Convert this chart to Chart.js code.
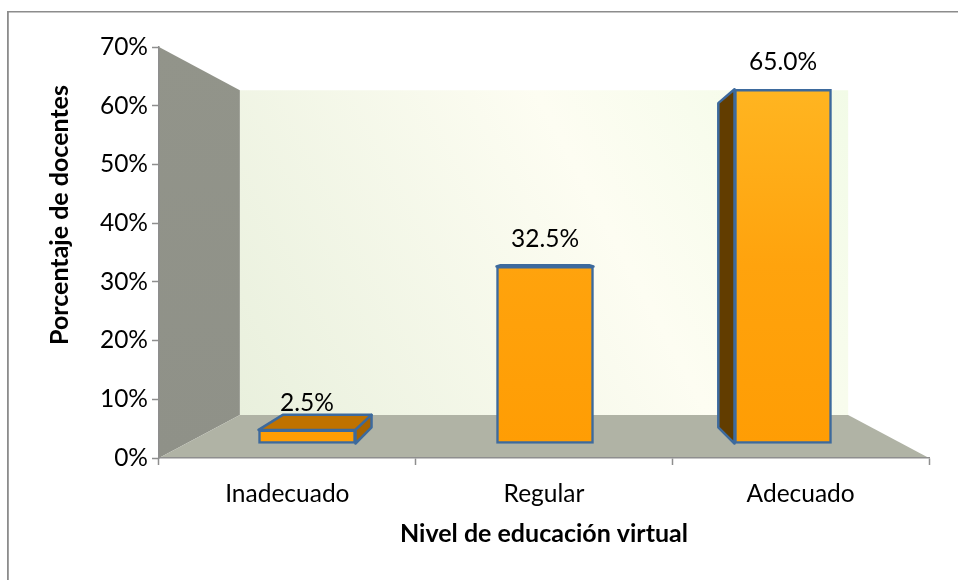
<!DOCTYPE html>
<html><head><meta charset="utf-8">
<style>html,body{margin:0;padding:0;background:#fff}#w{position:relative;width:958px;height:580px}canvas{display:block}</style>
<script src="https://cdn.jsdelivr.net/npm/chart.js@4/dist/chart.umd.min.js"></script>
</head><body><div id="w"><canvas id="c" width="958" height="580"></canvas></div>
<script>
const categories = ["Inadecuado", "Regular", "Adecuado"];
const barPositions = [0, 1, 2];
const values = [2.5, 32.5, 65.0];
const valueLabels = ["2.5%", "32.5%", "65.0%"];
const yMin = 0, yMax = 70, yStep = 10;
const yTitle = "Porcentaje de docentes";
const xTitle = "Nivel de educación virtual";

const FONT = "Lato", FS = 24.5, TITLE_FS = 25;
const PLOT = {left:159, right:929, top:47, bottom:458};
const WALL = 0.21, BAR_DEPTH = 0.085, VP = {x:544, y:253};
const AXIS = "#8e8e8e", EDGE = "#3d6a9d", EDGE_W = 2.5;

function project(x, y, k){ return [x + (VP.x - x) * k, y + (VP.y - y) * k]; }
function poly(ctx, pts, fill, stroke, lw){
  ctx.beginPath();
  pts.forEach((p, i) => i ? ctx.lineTo(p[0], p[1]) : ctx.moveTo(p[0], p[1]));
  ctx.closePath();
  if (fill){ ctx.fillStyle = fill; ctx.fill(); }
  if (stroke){ ctx.strokeStyle = stroke; ctx.lineWidth = lw; ctx.lineJoin = "round"; ctx.stroke(); }
}

const scene = {
  id: "scene",
  beforeDraw(chart){
    const {ctx, chartArea:a} = chart;
    ctx.save();
    ctx.fillStyle = "#8c8c8c";
    ctx.fillRect(7, 11, 951, 1.5);
    ctx.fillRect(7, 11, 1.8, 569);
    const tl=[a.left,a.top], tr=[a.right,a.top], bl=[a.left,a.bottom], br=[a.right,a.bottom];
    const btl=project(...tl,WALL), btr=project(...tr,WALL), bbl=project(...bl,WALL), bbr=project(...br,WALL);
    const g = ctx.createLinearGradient(btl[0], bbl[1], btr[0], btr[1]);
    g.addColorStop(0, "#e9f0dd"); g.addColorStop(0.6, "#fdfdf2"); g.addColorStop(1, "#f2fbe7");
    poly(ctx, [btl, btr, bbr, bbl], g);
    const s = ctx.createLinearGradient(0, a.top, 0, a.bottom);
    s.addColorStop(0, "#92948a"); s.addColorStop(1, "#8f9188");
    poly(ctx, [tl, btl, bbl, bl], s);
    poly(ctx, [bl, bbl, bbr, br], "#b0b3a5");
    ctx.restore();
  },
  beforeDatasetsDraw(chart){
    const {ctx} = chart;
    ctx.save();
    chart.getDatasetMeta(0).data.forEach(b => {
      const l=b.x-b.width/2, r=b.x+b.width/2, t=b.y, bt=b.base;
      const Ltb=project(l,t,BAR_DEPTH), Rtb=project(r,t,BAR_DEPTH), Lbb=project(l,bt,BAR_DEPTH), Rbb=project(r,bt,BAR_DEPTH);
      if (t > VP.y) poly(ctx, [[l,t],[r,t],Rtb,Ltb], "#bf7200", EDGE, EDGE_W);
      if (r < VP.x) poly(ctx, [[r,t],Rtb,Rbb,[r,bt]], "#a86400", EDGE, EDGE_W);
      if (l > VP.x) poly(ctx, [[l,t],Ltb,Lbb,[l,bt]], "#623d00", EDGE, EDGE_W);
    });
    ctx.restore();
  },
  afterDatasetsDraw(chart){
    const {ctx} = chart;
    ctx.save();
    ctx.fillStyle = "#000"; ctx.font = FS + "px " + FONT; ctx.textAlign = "center"; ctx.textBaseline = "alphabetic";
    chart.getDatasetMeta(0).data.forEach((b, i) => ctx.fillText(valueLabels[i], b.x, b.y - 19));
    ctx.font = "bold " + TITLE_FS + "px " + FONT; ctx.textBaseline = "middle";
    ctx.translate(60, 215); ctx.rotate(-Math.PI/2);
    ctx.fillText(yTitle, 0, 0);
    ctx.restore();
  }
};

const px0 = 443.5, pxPerUnit = 5.45;       // bar front-plane vertical scale
const cx0 = 307, cxPerUnit = 238;          // bar front-plane horizontal scale

new Chart(document.getElementById("c"), {
  type: "bar",
  data: {
    labels: categories,
    datasets: [{
      data: barPositions.map((p, i) => ({x:p, y:values[i]})),
      xAxisID: "xBar", yAxisID: "yBar",
      barThickness: 97,
      borderWidth: EDGE_W, borderColor: EDGE, borderSkipped: false,
      backgroundColor(c){
        const g = c.chart.ctx.createLinearGradient(0, PLOT.top + 40, 0, PLOT.bottom - 15);
        g.addColorStop(0, "#ffb521"); g.addColorStop(0.5, "#ffa30d"); g.addColorStop(1, "#ff9d04");
        return g;
      }
    }]
  },
  options: {
    responsive: false, animation: false, devicePixelRatio: 1,
    font: {family: FONT, size: FS},
    layout: {padding: {left:0, right:958-PLOT.right, top:PLOT.top, bottom:0}},
    plugins: {legend:{display:false}, tooltip:{enabled:false}, title:{display:false}},
    scales: {
      x: {type:"category", labels:categories, position:"bottom", offset:true,
          afterFit(s){ s.height = 580-PLOT.bottom; },
          grid:{offset:true, drawOnChartArea:false, tickLength:7, tickColor:AXIS, tickWidth:1.5},
          border:{display:true, color:AXIS, width:1.5},
          ticks:{color:"#000", padding:14, maxRotation:0, font:{family:FONT, size:FS}},
          title:{display:true, text:xTitle, color:"#000", padding:{top:0, bottom:31},
                 font:{family:FONT, size:TITLE_FS, weight:"bold"}}},
      y: {type:"linear", position:"left", min:yMin, max:yMax,
          afterFit(s){ s.width = PLOT.left; },
          grid:{drawOnChartArea:false, tickLength:7, tickColor:AXIS, tickWidth:1.5},
          border:{display:true, color:AXIS, width:1.5},
          ticks:{color:"#000", padding:4, stepSize:yStep, font:{family:FONT, size:FS},
                 callback:v => v + "%"}},
      xBar: {type:"linear", axis:"x", display:false, offset:false, grid:{offset:false},
             min:(PLOT.left-cx0)/cxPerUnit, max:(PLOT.right-cx0)/cxPerUnit},
      yBar: {type:"linear", axis:"y", display:false,
             min:(px0-PLOT.bottom)/pxPerUnit, max:(px0-PLOT.top)/pxPerUnit}
    }
  },
  plugins: [scene]
});
</script></body></html>
